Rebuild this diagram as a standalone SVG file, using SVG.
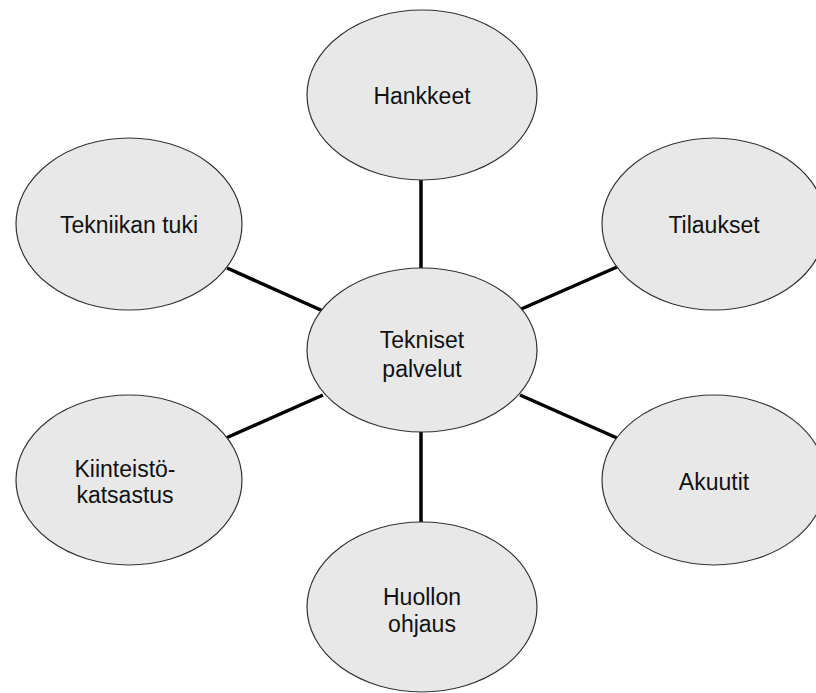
<svg xmlns="http://www.w3.org/2000/svg" width="816" height="693" viewBox="0 0 816 693">
<style>
.node ellipse{fill:#e8e8e8;stroke:#333;stroke-width:1.2}
.node text{font-family:"Liberation Sans",Arial,sans-serif;font-size:23px;fill:#111;text-anchor:middle}
.conn line{stroke:#000;stroke-width:3.5;stroke-linecap:butt}
</style>
<rect width="816" height="693" fill="#fff"/>
<g id="connectors" class="conn">
<line x1="421" y1="180" x2="421" y2="268"/>
<line x1="421" y1="432" x2="421" y2="522"/>
<line x1="227" y1="268" x2="323" y2="311"/>
<line x1="617" y1="267" x2="519" y2="310"/>
<line x1="226" y1="438" x2="323" y2="395"/>
<line x1="520" y1="395" x2="617" y2="438"/>
</g>
<g id="hankkeet" class="node">
<ellipse cx="422" cy="95" rx="115" ry="85"/>
<text x="422" y="104">Hankkeet</text>
</g>
<g id="tekniset-palvelut" class="node">
<ellipse cx="422" cy="350" rx="115" ry="82"/>
<text x="422" y="348">Tekniset</text>
<text x="422" y="377">palvelut</text>
</g>
<g id="tilaukset" class="node">
<ellipse cx="714" cy="224" rx="112" ry="86"/>
<text x="714" y="233">Tilaukset</text>
</g>
<g id="tekniikan-tuki" class="node">
<ellipse cx="129" cy="224" rx="113" ry="86"/>
<text x="129" y="233">Tekniikan tuki</text>
</g>
<g id="kiinteisto" class="node">
<ellipse cx="129" cy="480" rx="113" ry="85"/>
<text x="125" y="477">Kiinteistö-</text>
<text x="125" y="503">katsastus</text>
</g>
<g id="akuutit" class="node">
<ellipse cx="714" cy="480" rx="112" ry="85"/>
<text x="714" y="490">Akuutit</text>
</g>
<g id="huollon-ohjaus" class="node">
<ellipse cx="422" cy="607" rx="115" ry="85"/>
<text x="422" y="605">Huollon</text>
<text x="422" y="632">ohjaus</text>
</g>
</svg>
